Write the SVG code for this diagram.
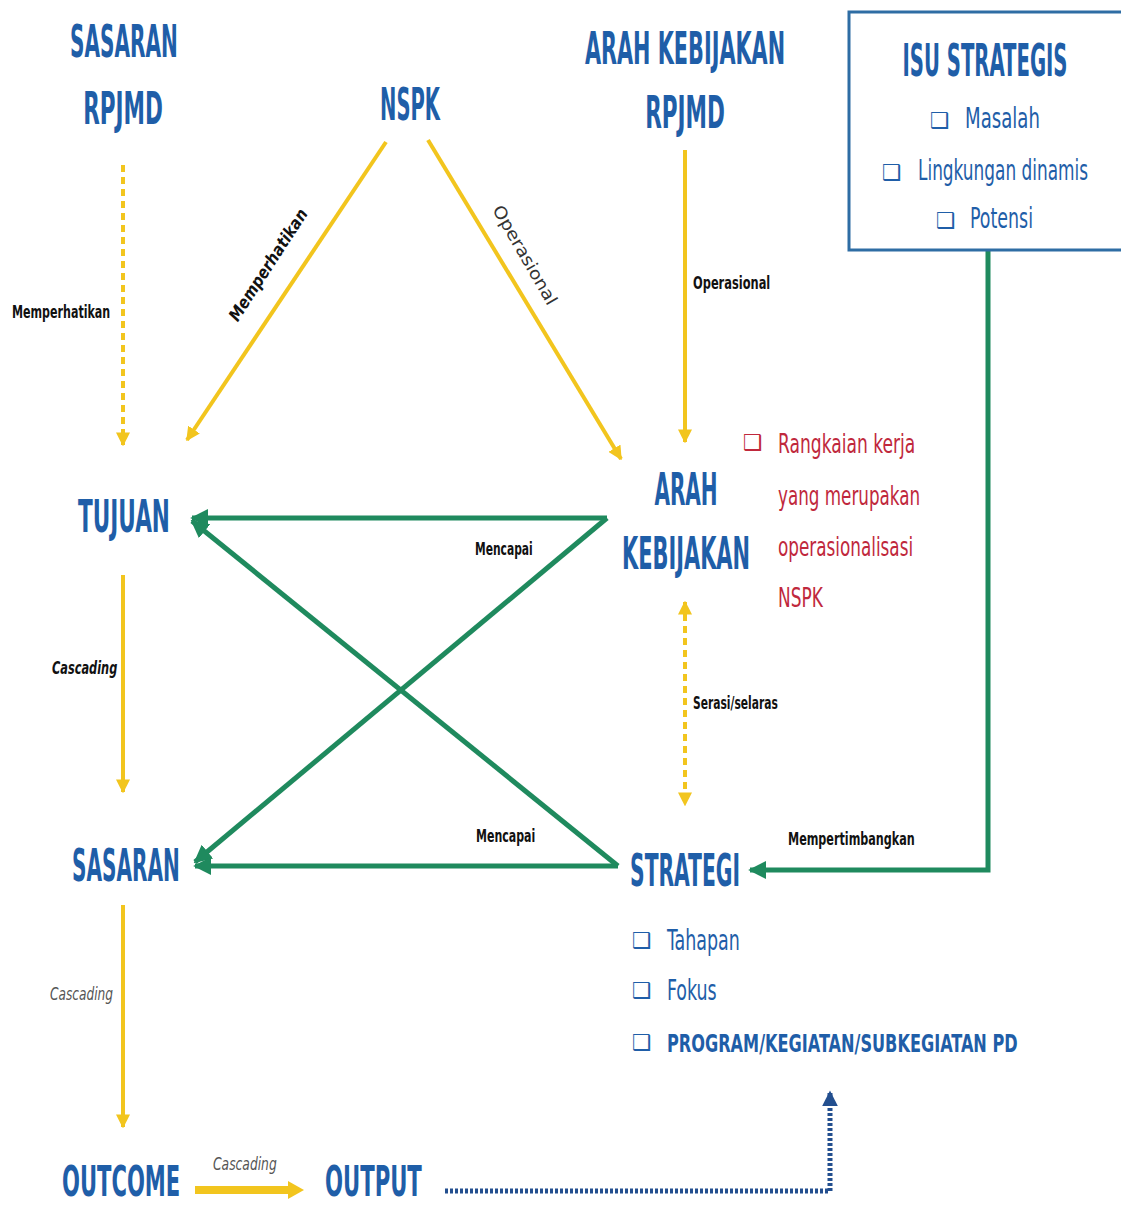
<svg xmlns="http://www.w3.org/2000/svg" width="1121" height="1206" viewBox="0 0 1121 1206">
<defs>
<style>
.t{font-family:"Liberation Sans Narrow","DejaVu Sans Condensed","Liberation Sans",sans-serif;font-weight:bold;fill:#1f5ea8;font-size:44px;}
.item{font-family:"Liberation Sans Narrow","DejaVu Sans Condensed","Liberation Sans",sans-serif;font-size:29px;fill:#1f5ea8;}
.red{font-family:"Liberation Sans Narrow","DejaVu Sans Condensed","Liberation Sans",sans-serif;font-size:27px;fill:#c0283c;}
.lbl{font-family:"Liberation Sans Narrow","DejaVu Sans Condensed","Liberation Sans",sans-serif;font-size:17px;fill:#111;font-weight:bold;}
.lg{font-family:"Liberation Sans Narrow","DejaVu Sans Condensed","Liberation Sans",sans-serif;font-size:17px;fill:#555;font-style:italic;}
.cb{font-family:"DejaVu Sans",sans-serif;font-size:22px;}
.y{stroke:#f2c51e;stroke-width:4;fill:none;}
.yd{stroke:#f2c51e;stroke-width:4;fill:none;stroke-dasharray:7 5;}
.g{stroke:#1f8a5e;stroke-width:5;fill:none;}
</style>
<marker id="ay" viewBox="0 0 10 10" refX="9" refY="5" markerWidth="14" markerHeight="14" markerUnits="userSpaceOnUse" orient="auto-start-reverse"><path d="M0,0 L10,5 L0,10 Z" fill="#f2c51e"/></marker>
<marker id="ag" viewBox="0 0 10 10" refX="9" refY="5" markerWidth="18" markerHeight="18" markerUnits="userSpaceOnUse" orient="auto"><path d="M0,0 L10,5 L0,10 Z" fill="#1f8a5e"/></marker>
<marker id="ab" viewBox="0 0 10 10" refX="9" refY="5" markerWidth="16" markerHeight="16" markerUnits="userSpaceOnUse" orient="auto"><path d="M0,0 L10,5 L0,10 Z" fill="#234f8f"/></marker>
</defs>
<rect width="1121" height="1206" fill="#ffffff"/>

<g id="connectors">
<line class="yd" x1="123" y1="165" x2="123" y2="445" marker-end="url(#ay)"/>
<text class="lbl" transform="translate(12,318) scale(0.75,1)" textLength="131" lengthAdjust="spacingAndGlyphs">Memperhatikan</text>
<line class="y" x1="386" y1="142" x2="187" y2="440" marker-end="url(#ay)"/>
<text class="lbl" font-style="italic" transform="translate(273,268) rotate(-57) scale(0.75,1)" text-anchor="middle" textLength="173" lengthAdjust="spacingAndGlyphs">Memperhatikan</text>
<line class="y" x1="428" y1="140" x2="621" y2="459" marker-end="url(#ay)"/>
<text class="lbl" style="font-weight:normal;fill:#333" transform="translate(520,258) rotate(60) scale(0.75,1)" text-anchor="middle" textLength="149" lengthAdjust="spacingAndGlyphs">Operasional</text>
<line class="y" x1="685" y1="150" x2="685" y2="442" marker-end="url(#ay)"/>
<text class="lbl" transform="translate(693,289) scale(0.75,1)" textLength="103" lengthAdjust="spacingAndGlyphs">Operasional</text>
<line class="yd" x1="685" y1="602" x2="685" y2="805" marker-start="url(#ay)" marker-end="url(#ay)"/>
<text class="lbl" transform="translate(693,709) scale(0.75,1)" textLength="113" lengthAdjust="spacingAndGlyphs">Serasi/selaras</text>

<path class="g" d="M607,518 L192,518" marker-end="url(#ag)"/>
<path class="g" d="M607,518 L195,862" marker-end="url(#ag)"/>
<path class="g" d="M618,866 L195,866" marker-end="url(#ag)"/>
<path class="g" d="M618,866 L192,521" marker-end="url(#ag)"/>
<text class="lbl" transform="translate(475,555) scale(0.75,1)" textLength="77" lengthAdjust="spacingAndGlyphs">Mencapai</text>
<text class="lbl" transform="translate(476,842) scale(0.75,1)" textLength="79" lengthAdjust="spacingAndGlyphs">Mencapai</text>

<path class="g" d="M988,250 L988,870 L750,870" marker-end="url(#ag)"/>
<text class="lbl" transform="translate(788,845) scale(0.75,1)" textLength="169" lengthAdjust="spacingAndGlyphs">Mempertimbangkan</text>

<line class="y" x1="123" y1="575" x2="123" y2="792" marker-end="url(#ay)"/>
<text class="lbl" font-style="italic" transform="translate(52,674) scale(0.75,1)" textLength="87" lengthAdjust="spacingAndGlyphs">Cascading</text>
<line class="y" x1="123" y1="905" x2="123" y2="1127" marker-end="url(#ay)"/>
<text class="lg" transform="translate(50,1000) scale(0.75,1)" textLength="84" lengthAdjust="spacingAndGlyphs">Cascading</text>
<line x1="195" y1="1190" x2="290" y2="1190" stroke="#f2c51e" stroke-width="8"/>
<path d="M288,1181 L304,1190 L288,1199 Z" fill="#f2c51e"/>
<text class="lg" transform="translate(213,1170) scale(0.75,1)" textLength="85" lengthAdjust="spacingAndGlyphs">Cascading</text>

<path d="M445,1191 L830,1191 L830,1092" fill="none" stroke="#234f8f" stroke-width="5" stroke-dasharray="3 2" marker-end="url(#ab)"/>
</g>

<g id="sasaran-rpjmd">
<text class="t" transform="translate(124,57) scale(0.55,1)" text-anchor="middle" textLength="196" lengthAdjust="spacingAndGlyphs">SASARAN</text>
<text class="t" transform="translate(123,124) scale(0.55,1)" text-anchor="middle" textLength="145" lengthAdjust="spacingAndGlyphs">RPJMD</text>
</g>
<g id="nspk">
<text class="t" transform="translate(410,120) scale(0.55,1)" text-anchor="middle" textLength="109" lengthAdjust="spacingAndGlyphs">NSPK</text>
</g>
<g id="arah-kebijakan-rpjmd">
<text class="t" transform="translate(685,64) scale(0.55,1)" text-anchor="middle" textLength="364" lengthAdjust="spacingAndGlyphs">ARAH KEBIJAKAN</text>
<text class="t" transform="translate(685,128) scale(0.55,1)" text-anchor="middle" textLength="145" lengthAdjust="spacingAndGlyphs">RPJMD</text>
</g>
<g id="isu-strategis">
<rect x="849" y="12" width="290" height="238" fill="none" stroke="#2e6da4" stroke-width="3"/>
<text class="t" transform="translate(985,76) scale(0.55,1)" text-anchor="middle" textLength="300" lengthAdjust="spacingAndGlyphs">ISU STRATEGIS</text>
<text class="cb" x="930" y="128" fill="#1f5ea8">❑</text>
<text class="item" transform="translate(965,128) scale(0.7,1)" textLength="107" lengthAdjust="spacingAndGlyphs">Masalah</text>
<text class="cb" x="882" y="180" fill="#1f5ea8">❑</text>
<text class="item" transform="translate(918,180) scale(0.7,1)" textLength="243" lengthAdjust="spacingAndGlyphs">Lingkungan dinamis</text>
<text class="cb" x="936" y="228" fill="#1f5ea8">❑</text>
<text class="item" transform="translate(970,228) scale(0.7,1)" textLength="90" lengthAdjust="spacingAndGlyphs">Potensi</text>
</g>
<g id="tujuan">
<text class="t" transform="translate(124,532) scale(0.55,1)" text-anchor="middle" textLength="167" lengthAdjust="spacingAndGlyphs">TUJUAN</text>
</g>
<g id="arah-kebijakan">
<text class="t" transform="translate(686,505) scale(0.55,1)" text-anchor="middle" textLength="115" lengthAdjust="spacingAndGlyphs">ARAH</text>
<text class="t" transform="translate(686,569) scale(0.55,1)" text-anchor="middle" textLength="233" lengthAdjust="spacingAndGlyphs">KEBIJAKAN</text>
</g>
<g id="catatan">
<text class="cb" x="743" y="450" fill="#c0283c">❑</text>
<text class="red" transform="translate(778,453) scale(0.7,1)" textLength="196" lengthAdjust="spacingAndGlyphs">Rangkaian kerja</text>
<text class="red" transform="translate(778,505) scale(0.7,1)" textLength="203" lengthAdjust="spacingAndGlyphs">yang merupakan</text>
<text class="red" transform="translate(778,556) scale(0.7,1)" textLength="193" lengthAdjust="spacingAndGlyphs">operasionalisasi</text>
<text class="red" transform="translate(778,607) scale(0.7,1)" textLength="64" lengthAdjust="spacingAndGlyphs">NSPK</text>
</g>
<g id="sasaran">
<text class="t" transform="translate(126,881) scale(0.55,1)" text-anchor="middle" textLength="196" lengthAdjust="spacingAndGlyphs">SASARAN</text>
</g>
<g id="strategi">
<text class="t" transform="translate(685,886) scale(0.55,1)" text-anchor="middle" textLength="200" lengthAdjust="spacingAndGlyphs">STRATEGI</text>
<text class="cb" x="632" y="948" fill="#1f5ea8">❑</text>
<text class="item" transform="translate(667,950) scale(0.7,1)" textLength="104" lengthAdjust="spacingAndGlyphs">Tahapan</text>
<text class="cb" x="632" y="998" fill="#1f5ea8">❑</text>
<text class="item" transform="translate(667,1000) scale(0.7,1)" textLength="71" lengthAdjust="spacingAndGlyphs">Fokus</text>
<text class="cb" x="632" y="1050" fill="#1f5ea8">❑</text>
<text class="item" transform="translate(667,1052) scale(0.7,1)" font-weight="bold" style="font-size:25px" textLength="501" lengthAdjust="spacingAndGlyphs">PROGRAM/KEGIATAN/SUBKEGIATAN PD</text>
</g>
<g id="outcome">
<text class="t" style="font-size:42px" transform="translate(62,1196) scale(0.55,1)" textLength="215" lengthAdjust="spacingAndGlyphs">OUTCOME</text>
</g>
<g id="output">
<text class="t" style="font-size:42px" transform="translate(325,1196) scale(0.55,1)" textLength="176" lengthAdjust="spacingAndGlyphs">OUTPUT</text>
</g>
</svg>
